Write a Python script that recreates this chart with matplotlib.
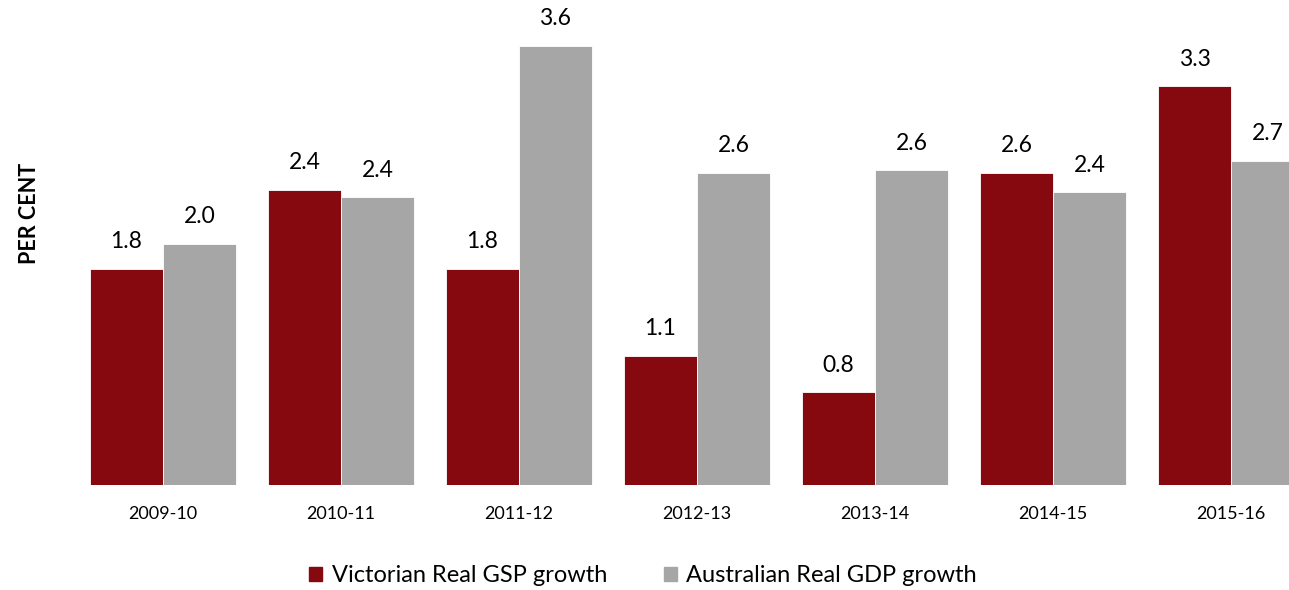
import numpy as np
import matplotlib.pyplot as plt
from matplotlib.patches import Patch

# =========================
# 数据
# =========================
years = ["2009-10", "2010-11", "2011-12", "2012-13", "2013-14", "2014-15", "2015-16"]
vic_gsp = [1.77, 2.42, 1.77, 1.06, 0.76, 2.56, 3.27]
aus_gdp = [1.98, 2.36, 3.60, 2.56, 2.58, 2.40, 2.66]

red = "#870910"
grey = "#a6a6a6"

plt.rcParams['font.family'] = ['Lato', 'DejaVu Sans']

# =========================
# 作图
# =========================
W, H = 1289, 590
fig = plt.figure(figsize=(W / 100, H / 100), dpi=100)

# 像素 -> 轴位置
x0_pix, x1_pix = 80, 1289
base_pix, top_pix = 485, 10
ppu = (485 - 46) / 3.6
ax = fig.add_axes([x0_pix / W, (H - base_pix) / H,
                   (x1_pix - x0_pix) / W, (base_pix - top_pix) / H])

x = np.arange(len(years))
w = 0.41
b1 = ax.bar(x - w / 2, vic_gsp, w, color=red, edgecolor="white", linewidth=0.6)
b2 = ax.bar(x + w / 2, aus_gdp, w, color=grey, edgecolor="white", linewidth=0.6)

for bars, vals in [(b1, vic_gsp), (b2, aus_gdp)]:
    for bar, v in zip(bars, vals):
        ax.annotate(f"{v:.1f}", (bar.get_x() + bar.get_width() / 2, v),
                    xytext=(0, 12), textcoords="offset points",
                    ha="center", va="bottom", fontsize=16.5)

ax.set_xlim((x0_pix - 163) / 178, (x1_pix - 163) / 178)
ax.set_ylim(0, (base_pix - top_pix) / ppu)
ax.set_xticks(x)
ax.set_xticklabels(years, fontsize=13)
ax.tick_params(axis="x", length=0, pad=15)
ax.set_yticks([])
for s in ax.spines.values():
    s.set_visible(False)

fig.text(30 / W, 1 - 213 / H, "PER CENT", rotation=90, fontsize=15.5,
         fontweight="bold", ha="center", va="center")

handles = [Patch(color=red, label="Victorian Real GSP growth"),
           Patch(color=grey, label="Australian Real GDP growth")]
fig.legend(handles=handles, loc="center", bbox_to_anchor=(643 / W, 1 - 576 / H),
           ncol=2, frameon=False, fontsize=17, handlelength=0.55, handleheight=0.55,
           handletextpad=0.4, columnspacing=2.4)

fig.savefig("out.png", dpi=100)
